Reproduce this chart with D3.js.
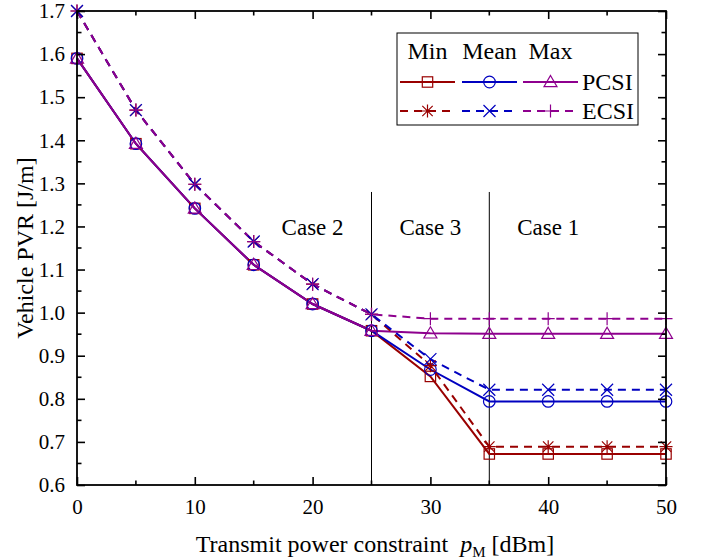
<!DOCTYPE html>
<html>
<head>
<meta charset="utf-8">
<script src="https://cdn.jsdelivr.net/npm/d3@7"></script>
<style>
  html, body { margin: 0; padding: 0; background: #fff; }
  svg { display: block; }
  text { font-family: "Liberation Serif", "Times New Roman", serif; fill: #000; }
</style>
</head>
<body>
<svg id="chart" width="704" height="559"></svg>
<script>
// Transmit power constraint (dBm)
const powers = [0, 5, 10, 15, 20, 25, 30, 35, 40, 45, 50];

// Vehicle PVR [J/m] with perfect CSI
const pcsiMin  = [1.590, 1.392, 1.242, 1.111, 1.020, 0.958, 0.852, 0.672, 0.672, 0.672, 0.672];
const pcsiMean = [1.590, 1.392, 1.242, 1.111, 1.020, 0.958, 0.868, 0.794, 0.794, 0.794, 0.794];
const pcsiMax  = [1.590, 1.392, 1.242, 1.111, 1.020, 0.958, 0.952, 0.951, 0.951, 0.951, 0.951];

// Vehicle PVR [J/m] with estimated CSI
const ecsiMin  = [1.700, 1.470, 1.298, 1.165, 1.066, 0.996, 0.877, 0.689, 0.689, 0.689, 0.689];
const ecsiMean = [1.700, 1.470, 1.298, 1.165, 1.066, 0.996, 0.892, 0.821, 0.821, 0.821, 0.821];
const ecsiMax  = [1.700, 1.470, 1.298, 1.165, 1.066, 0.996, 0.986, 0.986, 0.986, 0.986, 0.986];

const xTicks = [0, 10, 20, 30, 40, 50];
const xMinorTicks = [5, 15, 25, 35, 45];
const yTicks = [0.6, 0.7, 0.8, 0.9, 1.0, 1.1, 1.2, 1.3, 1.4, 1.5, 1.6, 1.7];
const yMinorTicks = [0.65, 0.75, 0.85, 0.95, 1.05, 1.15, 1.25, 1.35, 1.45, 1.55, 1.65];

const caseBounds = [25, 35];
const caseLabels = [
  { text: "Case 2", x: 20 },
  { text: "Case 3", x: 30 },
  { text: "Case 1", x: 40 }
];

const statNames = ["Min", "Mean", "Max"];
const statColors = ["#990000", "#0000c0", "#8e008e"];
const csiNames = ["PCSI", "ECSI"];

const series = [
  { csi: 0, stat: 0, values: pcsiMin,  marker: "square" },
  { csi: 0, stat: 1, values: pcsiMean, marker: "circle" },
  { csi: 0, stat: 2, values: pcsiMax,  marker: "triangle" },
  { csi: 1, stat: 0, values: ecsiMin,  marker: "asterisk" },
  { csi: 1, stat: 1, values: ecsiMean, marker: "cross" },
  { csi: 1, stat: 2, values: ecsiMax,  marker: "plus" }
];

const margin = { left: 77, right: 38, top: 11, bottom: 74 };
const W = 704, H = 559;
const svg = d3.select("#chart");

const x = d3.scaleLinear().domain([0, 50]).range([margin.left, W - margin.right]);
const y = d3.scaleLinear().domain([0.6, 1.7]).range([H - margin.bottom, margin.top]);

// marker drawing helpers
function drawMarker(g, type, cx, cy, color) {
  const s = 5.2;
  if (type === "square") {
    g.append("rect").attr("x", cx - s).attr("y", cy - s).attr("width", 2 * s).attr("height", 2 * s)
      .attr("fill", "none").attr("stroke", color).attr("stroke-width", 1.2);
  } else if (type === "circle") {
    g.append("circle").attr("cx", cx).attr("cy", cy).attr("r", s + 0.6)
      .attr("fill", "none").attr("stroke", color).attr("stroke-width", 1.2);
  } else if (type === "triangle") {
    const r = 6.5;
    g.append("path")
      .attr("d", `M${cx},${cy - r}L${cx + r},${cy + r * 0.72}L${cx - r},${cy + r * 0.72}Z`)
      .attr("fill", "none").attr("stroke", color).attr("stroke-width", 1.2);
  } else if (type === "plus") {
    const r = 6.5;
    g.append("path").attr("d", `M${cx - r},${cy}H${cx + r}M${cx},${cy - r}V${cy + r}`)
      .attr("stroke", color).attr("stroke-width", 1.2);
  } else if (type === "cross") {
    const r = 6;
    g.append("path").attr("d", `M${cx - r},${cy - r}L${cx + r},${cy + r}M${cx - r},${cy + r}L${cx + r},${cy - r}`)
      .attr("stroke", color).attr("stroke-width", 1.2);
  } else if (type === "asterisk") {
    const r = 6.5, d = 5.2;
    g.append("path")
      .attr("d", `M${cx - r},${cy}H${cx + r}M${cx},${cy - r}V${cy + r}` +
                 `M${cx - d},${cy - d}L${cx + d},${cy + d}M${cx - d},${cy + d}L${cx + d},${cy - d}`)
      .attr("stroke", color).attr("stroke-width", 1.2);
  }
}

// case separators and labels
const caseG = svg.append("g");
caseBounds.forEach(b => {
  caseG.append("line")
    .attr("x1", x(b)).attr("x2", x(b))
    .attr("y1", y(1.28)).attr("y2", y(0.6))
    .attr("stroke", "#000").attr("stroke-width", 1);
});
caseLabels.forEach(c => {
  caseG.append("text").attr("x", x(c.x)).attr("y", y(1.18))
    .attr("text-anchor", "middle").attr("font-size", 23).text(c.text);
});

// curves
const line = d3.line().x((d, i) => x(powers[i])).y(d => y(d));
const lineG = svg.append("g");
series.forEach(s => {
  lineG.append("path").datum(s.values)
    .attr("d", line)
    .attr("fill", "none")
    .attr("stroke", statColors[s.stat])
    .attr("stroke-width", 2)
    .attr("stroke-dasharray", s.csi === 1 ? "8,6" : null);
});
const markG = svg.append("g");
series.forEach(s => {
  s.values.forEach((v, i) => drawMarker(markG, s.marker, x(powers[i]), y(v), statColors[s.stat]));
});

// axes box with inward ticks on all four sides
const axisG = svg.append("g").attr("stroke", "#000");
const x0 = x(0), x1 = x(50), y0 = y(0.6), y1 = y(1.7);
axisG.append("rect").attr("x", x0).attr("y", y1).attr("width", x1 - x0).attr("height", y0 - y1)
  .attr("fill", "none").attr("stroke-width", 1.8);

const bottomAxis = d3.axisBottom(x).tickValues(xTicks).tickSizeInner(-8).tickSizeOuter(0).tickPadding(14)
  .tickFormat(d3.format("d"));
const gb = svg.append("g").attr("transform", `translate(0,${y0})`).call(bottomAxis);
gb.select(".domain").remove();
gb.selectAll("line").attr("stroke-width", 1.6);
gb.selectAll("text").attr("font-size", 21).attr("font-family", "Liberation Serif");

const topAxis = d3.axisTop(x).tickValues(xTicks).tickSizeInner(-8).tickSizeOuter(0).tickFormat("");
const gt = svg.append("g").attr("transform", `translate(0,${y1})`).call(topAxis);
gt.select(".domain").remove();
gt.selectAll("line").attr("stroke-width", 1.6);

[[y0, -1], [y1, 1]].forEach(([yy, dir]) => {
  xMinorTicks.forEach(t => {
    axisG.append("line").attr("x1", x(t)).attr("x2", x(t)).attr("y1", yy).attr("y2", yy + dir * 4.5)
      .attr("stroke-width", 1.6);
  });
});

const leftAxis = d3.axisLeft(y).tickValues(yTicks).tickSizeInner(-8).tickSizeOuter(0).tickPadding(12)
  .tickFormat(d3.format(".1f"));
const gl = svg.append("g").attr("transform", `translate(${x0},0)`).call(leftAxis);
gl.select(".domain").remove();
gl.selectAll("line").attr("stroke-width", 1.6);
gl.selectAll("text").attr("font-size", 21).attr("font-family", "Liberation Serif");

const rightAxis = d3.axisRight(y).tickValues(yTicks).tickSizeInner(-8).tickSizeOuter(0).tickFormat("");
const gr = svg.append("g").attr("transform", `translate(${x1},0)`).call(rightAxis);
gr.select(".domain").remove();
gr.selectAll("line").attr("stroke-width", 1.6);

[[x0, 1], [x1, -1]].forEach(([xx, dir]) => {
  yMinorTicks.forEach(t => {
    axisG.append("line").attr("x1", xx).attr("x2", xx + dir * 4.5).attr("y1", y(t)).attr("y2", y(t))
      .attr("stroke-width", 1.6);
  });
});

// axis titles
const xt = svg.append("text").attr("x", 375).attr("y", 552)
  .attr("text-anchor", "middle").attr("font-size", 24);
xt.append("tspan").text("Transmit power constraint\u00a0\u00a0");
xt.append("tspan").attr("font-style", "italic").text("p");
xt.append("tspan").attr("font-size", 15).attr("dy", 5).text("M");
xt.append("tspan").attr("dy", -5).text(" [dBm]");

svg.append("text")
  .attr("transform", `translate(33,${(y0 + y1) / 2}) rotate(-90)`)
  .attr("text-anchor", "middle").attr("font-size", 24)
  .text("Vehicle PVR [J/m]");

// legend
const lg = svg.append("g").attr("transform", "translate(397,33)");
lg.append("rect").attr("width", 241).attr("height", 92).attr("fill", "#fff")
  .attr("stroke", "#000").attr("stroke-width", 1);
const colX = [3, 65, 126];
const segW = 55;
statNames.forEach((n, i) => {
  lg.append("text").attr("x", colX[i] + segW / 2).attr("y", 26).attr("text-anchor", "middle")
    .attr("font-size", 24).text(n);
});
const rowY = [49, 78];
series.forEach(s => {
  const ly = rowY[s.csi];
  lg.append("line").attr("x1", colX[s.stat]).attr("x2", colX[s.stat] + segW)
    .attr("y1", ly).attr("y2", ly)
    .attr("stroke", statColors[s.stat]).attr("stroke-width", 2)
    .attr("stroke-dasharray", s.csi === 1 ? "8,6" : null);
  drawMarker(lg, s.marker, colX[s.stat] + segW / 2, ly, statColors[s.stat]);
});
csiNames.forEach((n, i) => {
  lg.append("text").attr("x", 185).attr("y", rowY[i] + 8).attr("font-size", 24).text(n);
});
</script>
</body>
</html>
